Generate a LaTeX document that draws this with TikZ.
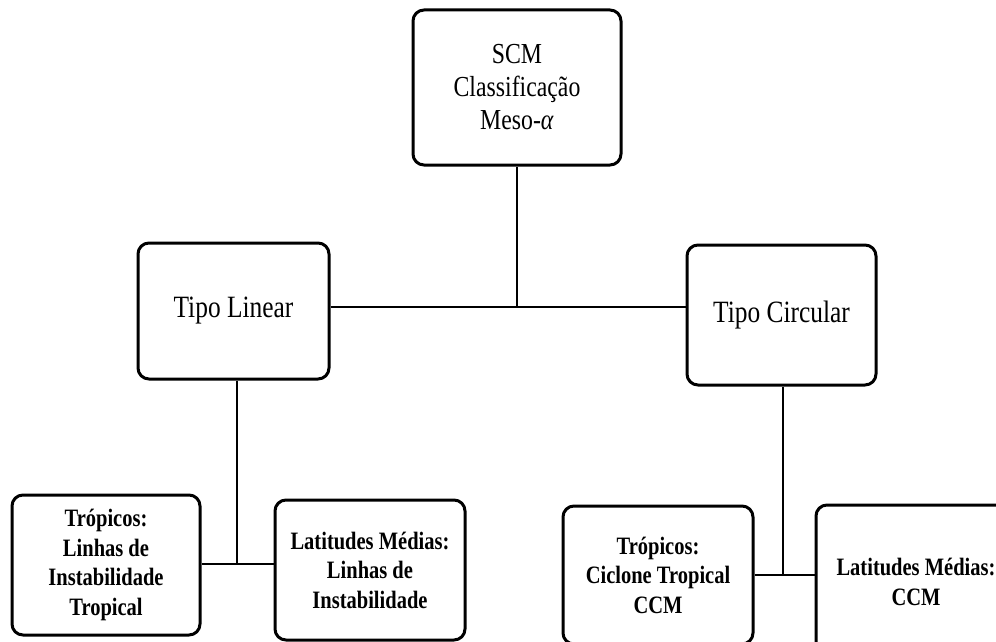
\documentclass[tikz,border=0pt]{standalone}
\usepackage{fontspec}
\setmainfont{Liberation Serif}[FakeStretch=0.82]
\begin{document}
\begin{tikzpicture}[x=1pt,y=-1pt,
  box/.style={draw,line width=3pt,rounded corners=11pt,align=center,inner sep=0pt},
  conn/.style={line width=2.3pt},
  topfont/.style={font=\fontsize{29}{33}\selectfont},
  midfont/.style={font=\fontsize{31}{34}\selectfont},
  lowfont/.style={font=\fontsize{25}{29.5}\selectfont\bfseries}]
\useasboundingbox (0,0) rectangle (996,642);
\fill[white] (0,0) rectangle (996,642);
\clip (0,0) rectangle (996,642);
\node[box,topfont,minimum width=208pt,minimum height=155pt] (scm) at (517,87.5) {SCM\\Classificação\\Meso-\textit{α}};
\node[box,midfont,minimum width=191pt,minimum height=136pt] (lin) at (233.5,311) {Tipo Linear};
\node[box,midfont,minimum width=189pt,minimum height=140pt] (circ) at (781.5,315) {Tipo Circular};
\node[box,lowfont,minimum width=188pt,minimum height=140pt] (tl) at (106,565) {Trópicos:\\Linhas de\\Instabilidade\\Tropical};
\node[box,lowfont,minimum width=190pt,minimum height=140pt] (ml) at (370,570) {Latitudes Médias:\\Linhas de\\Instabilidade};
\node[box,lowfont,minimum width=190pt,minimum height=138pt] (tc) at (658,575) {Trópicos:\\Ciclone Tropical\\CCM};
\node[box,lowfont,minimum width=200pt,minimum height=154pt] (mc) at (916,582) {Latitudes Médias:\\CCM};
\coordinate (j1) at (515,307);
\draw[conn] (scm.south) -- (scm.south |- j1);
\draw[conn] (lin.east |- j1) -- (circ.west |- j1);
\coordinate (j2) at (237,564);
\draw[conn] (lin.south -| j2) -- (j2);
\draw[conn] (tl.east |- j2) -- (ml.west |- j2);
\coordinate (j3) at (783,575);
\draw[conn] (circ.south -| j3) -- (j3);
\draw[conn] (tc.east |- j3) -- (mc.west |- j3);
\end{tikzpicture}
\end{document}
